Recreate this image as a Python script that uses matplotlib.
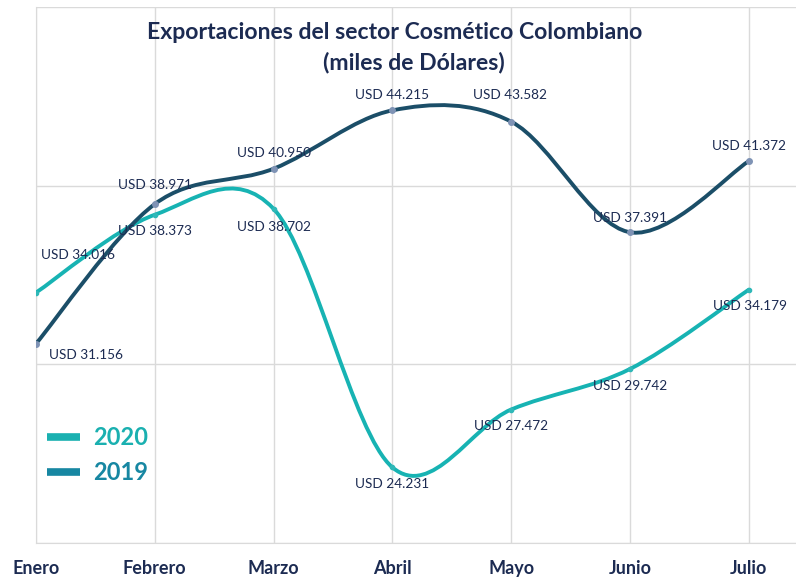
import matplotlib.pyplot as plt
from matplotlib.path import Path
from matplotlib.patches import PathPatch
from matplotlib.lines import Line2D

months = ["Enero", "Febrero", "Marzo", "Abril", "Mayo", "Junio", "Julio"]
exp_2019 = [31.156, 38.971, 40.950, 44.215, 43.582, 37.391, 41.372]
exp_2020 = [34.016, 38.373, 38.702, 24.231, 27.472, 29.742, 34.179]
labels_2019 = ["USD 31.156", "USD 38.971", "USD 40.950", "USD 44.215",
               "USD 43.582", "USD 37.391", "USD 41.372"]
labels_2020 = ["USD 34.016", "USD 38.373", "USD 38.702", "USD 24.231",
               "USD 27.472", "USD 29.742", "USD 34.179"]

# label offsets in points (style only)
off_2019 = [(36, -8), (0, 14), (0, 11), (0, 11), (-1, 19), (0, 10), (0, 11)]
off_2020 = [(30, 27), (0, -12), (0, -13), (0, -12), (0, -12), (0, -12), (1, -12)]

C2020 = "#17B3B3"
C2019 = "#1B4E68"
TXT = "#1C2B52"
GRID = "#DADADA"

plt.rcParams['font.family'] = ['Lato', 'DejaVu Sans']


def smooth_path(xs, ys):
    # excel-like smoothed line: catmull-rom turned into cubic bezier segments
    pts = list(zip(xs, ys))
    verts = [pts[0]]
    codes = [Path.MOVETO]
    n = len(pts)
    for i in range(n - 1):
        p0 = pts[i - 1] if i > 0 else pts[i]
        p1 = pts[i]
        p2 = pts[i + 1]
        p3 = pts[i + 2] if i + 2 < n else pts[i + 1]
        c1 = (p1[0] + (p2[0] - p0[0]) / 6, p1[1] + (p2[1] - p0[1]) / 6)
        c2 = (p2[0] - (p3[0] - p1[0]) / 6, p2[1] - (p3[1] - p1[1]) / 6)
        verts += [c1, c2, p2]
        codes += [Path.CURVE4] * 3
    return Path(verts, codes)


fig = plt.figure(figsize=(7.96, 5.81), dpi=100)
ax = fig.add_axes([36 / 796, 38 / 581, 760 / 796, 536 / 581])
x = list(range(len(months)))

ax.add_patch(PathPatch(smooth_path(x, exp_2020), fill=False, edgecolor=C2020,
                       lw=2.8, capstyle='round', zorder=3))
ax.add_patch(PathPatch(smooth_path(x, exp_2019), fill=False, edgecolor=C2019,
                       lw=2.8, capstyle='round', zorder=4))
ax.plot(x, exp_2020, 'o', ms=3, color="#2FB8B8", zorder=5)
ax.plot(x, exp_2019, 'o', ms=4, color="#7F93B5", zorder=5)

for i in x:
    ax.annotate(labels_2019[i], (i, exp_2019[i]), xytext=off_2019[i],
                textcoords='offset points', ha='center', va='center',
                fontsize=9.8, color=TXT, zorder=6)
    ax.annotate(labels_2020[i], (i, exp_2020[i]), xytext=off_2020[i],
                textcoords='offset points', ha='center', va='center',
                fontsize=9.8, color=TXT, zorder=6)

ax.set_xlim(0, 6.397)
ax.set_ylim(20, 50)
ax.set_yticks([20, 30, 40, 50])
ax.set_yticklabels([])
ax.set_xticks(x)
ax.set_xticklabels(months, fontsize=13, fontweight='bold', color=TXT)
ax.tick_params(length=0, pad=12)
ax.grid(True, color=GRID, lw=1)
ax.set_axisbelow(True)
for s in ["top", "right"]:
    ax.spines[s].set_visible(False)
for s in ["left", "bottom"]:
    ax.spines[s].set_color(GRID)

fig.text(395 / 796, 1 - 39 / 581, "Exportaciones del sector Cosmético Colombiano",
         ha='center', va='baseline', fontsize=16.6, fontweight='bold', color=TXT)
fig.text(414 / 796, 1 - 69 / 581, "(miles de Dólares)",
         ha='center', va='baseline', fontsize=16.6, fontweight='bold', color=TXT)

handles = [Line2D([], [], color="#1AB0B0", lw=5.5, solid_capstyle='butt'),
           Line2D([], [], color="#1787A2", lw=5.5, solid_capstyle='butt')]
ax.legend(handles, ["2020", "2019"], loc='center left',
          bbox_to_anchor=(-0.014, (543 - 455) / 536), frameon=False,
          handlelength=1.4, handletextpad=0.55,
          labelcolor=["#1AB0B0", "#1787A2"],
          prop={'size': 17, 'weight': 'bold'}, labelspacing=0.5)

fig.savefig("out.png", dpi=100)
